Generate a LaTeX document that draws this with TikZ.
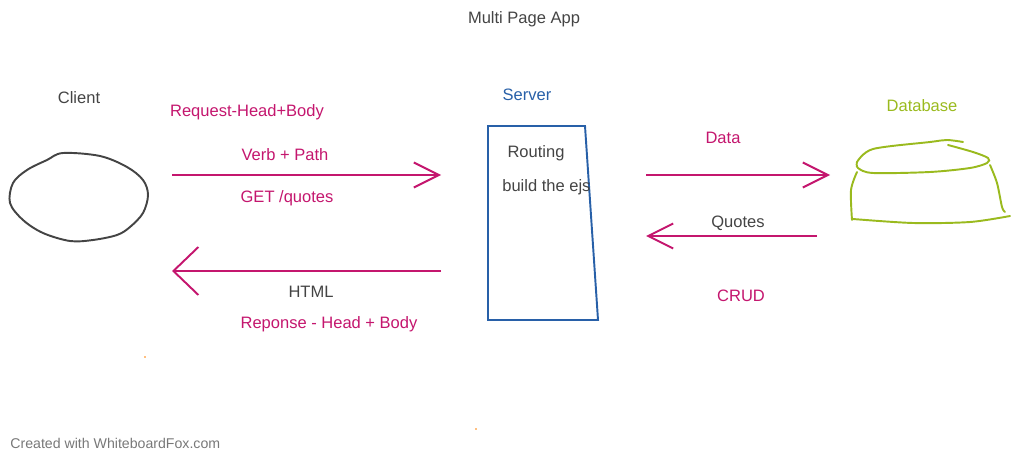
\documentclass[tikz,border=0pt]{standalone}
\usepackage{fontspec}
\setmainfont{Liberation Sans}
\usetikzlibrary{arrows.meta}
\definecolor{pinkline}{RGB}{196,22,110}
\definecolor{greytext}{RGB}{68,68,68}
\definecolor{serverblue}{RGB}{40,96,168}
\definecolor{dbgreen}{RGB}{154,186,30}
\definecolor{foxgrey}{RGB}{120,120,120}
\begin{document}
\begin{tikzpicture}[x=0.02cm,y=-0.02cm,
  lbl/.style={inner sep=0pt,font=\fontsize{9.4}{11}\selectfont},
  pink/.style={lbl,text=pinkline},
  grey/.style={lbl,text=greytext},
  flow/.style={draw=pinkline,line width=1.1pt,-{Straight Barb[length=0.5cm,width=0.5cm,line width=1.1pt]}},
  bigflow/.style={flow,-{Straight Barb[length=0.5cm,width=0.96cm,line width=1.1pt]}}]
\useasboundingbox (0,0) rectangle (1020,459);
\node[grey] (title) at (524,19) {Multi Page App};
\node[grey] (client) at (79,98) {Client};
\draw[greytext,line width=1.1pt] plot[smooth cycle,tension=0.55] coordinates {(63,153) (100,156) (127,167) (143,180) (148,195) (143,213) (130,227) (117,235) (93,240) (70,241) (43,233) (23,220) (10,203) (13,183) (27,170) (47,160)};
\node[pink] (req) at (247,112) {Request-Head+Body};
\node[pink] (verb) at (285,155) {Verb + Path};
\node[pink] (get) at (287,198) {GET /quotes};
\coordinate (reqA) at (172,175);
\coordinate (reqB) at (441,175);
\draw[flow] (reqA) -- (reqB);
\coordinate (resA) at (441,271);
\coordinate (resB) at (172,271);
\draw[bigflow] (resA) -- (resB);
\node[grey] (html) at (311,292) {HTML};
\node[pink] (resp) at (329,324) {Reponse - Head + Body};
\node[lbl,text=serverblue] (server) at (527,95) {Server};
\draw[serverblue,line width=1.1pt] (488,126) -- (585,126) -- (598,320) -- (488,320) -- cycle;
\node[grey] (routing) at (536,153) {Routing};
\node[grey,anchor=west] (ejs) at (502,187) {build the ejs};
\node[pink] (data) at (723,138) {Data};
\coordinate (dataA) at (646,175);
\coordinate (dataB) at (830,175);
\draw[flow] (dataA) -- (dataB);
\node[grey] (quotes) at (738,223) {Quotes};
\coordinate (quoA) at (817,236);
\coordinate (quoB) at (646,236);
\draw[flow] (quoA) -- (quoB);
\node[pink] (crud) at (741,296) {CRUD};
\node[lbl,text=dbgreen] (db) at (922,106) {Database};
\draw[dbgreen,line width=1.1pt,line cap=round] plot[smooth,tension=0.5] coordinates {(857,162) (873,149) (930,142) (947,140) (963,142)};
\draw[dbgreen,line width=1.1pt,line cap=round] plot[smooth,tension=0.5] coordinates {(948,145) (973,152) (988,158) (987,163) (970,168) (930,172) (873,173) (858,168) (857,162)};
\draw[dbgreen,line width=1.1pt,line cap=round] plot[smooth,tension=0.5] coordinates {(857,172) (851,190) (852,220)};
\draw[dbgreen,line width=1.1pt,line cap=round] plot[smooth,tension=0.5] coordinates {(853,219) (913,223) (970,222) (1010,216)};
\draw[dbgreen,line width=1.1pt,line cap=round] plot[smooth,tension=0.5] coordinates {(990,165) (997,183) (1002,207) (1005,212)};
\fill[orange] (145,357) circle (0.8);
\fill[orange] (476,429) circle (0.8);
\node[lbl,text=foxgrey,anchor=west,font=\fontsize{8.05}{10}\selectfont] (fox) at (10,443) {Created with WhiteboardFox.com};
\end{tikzpicture}
\end{document}
